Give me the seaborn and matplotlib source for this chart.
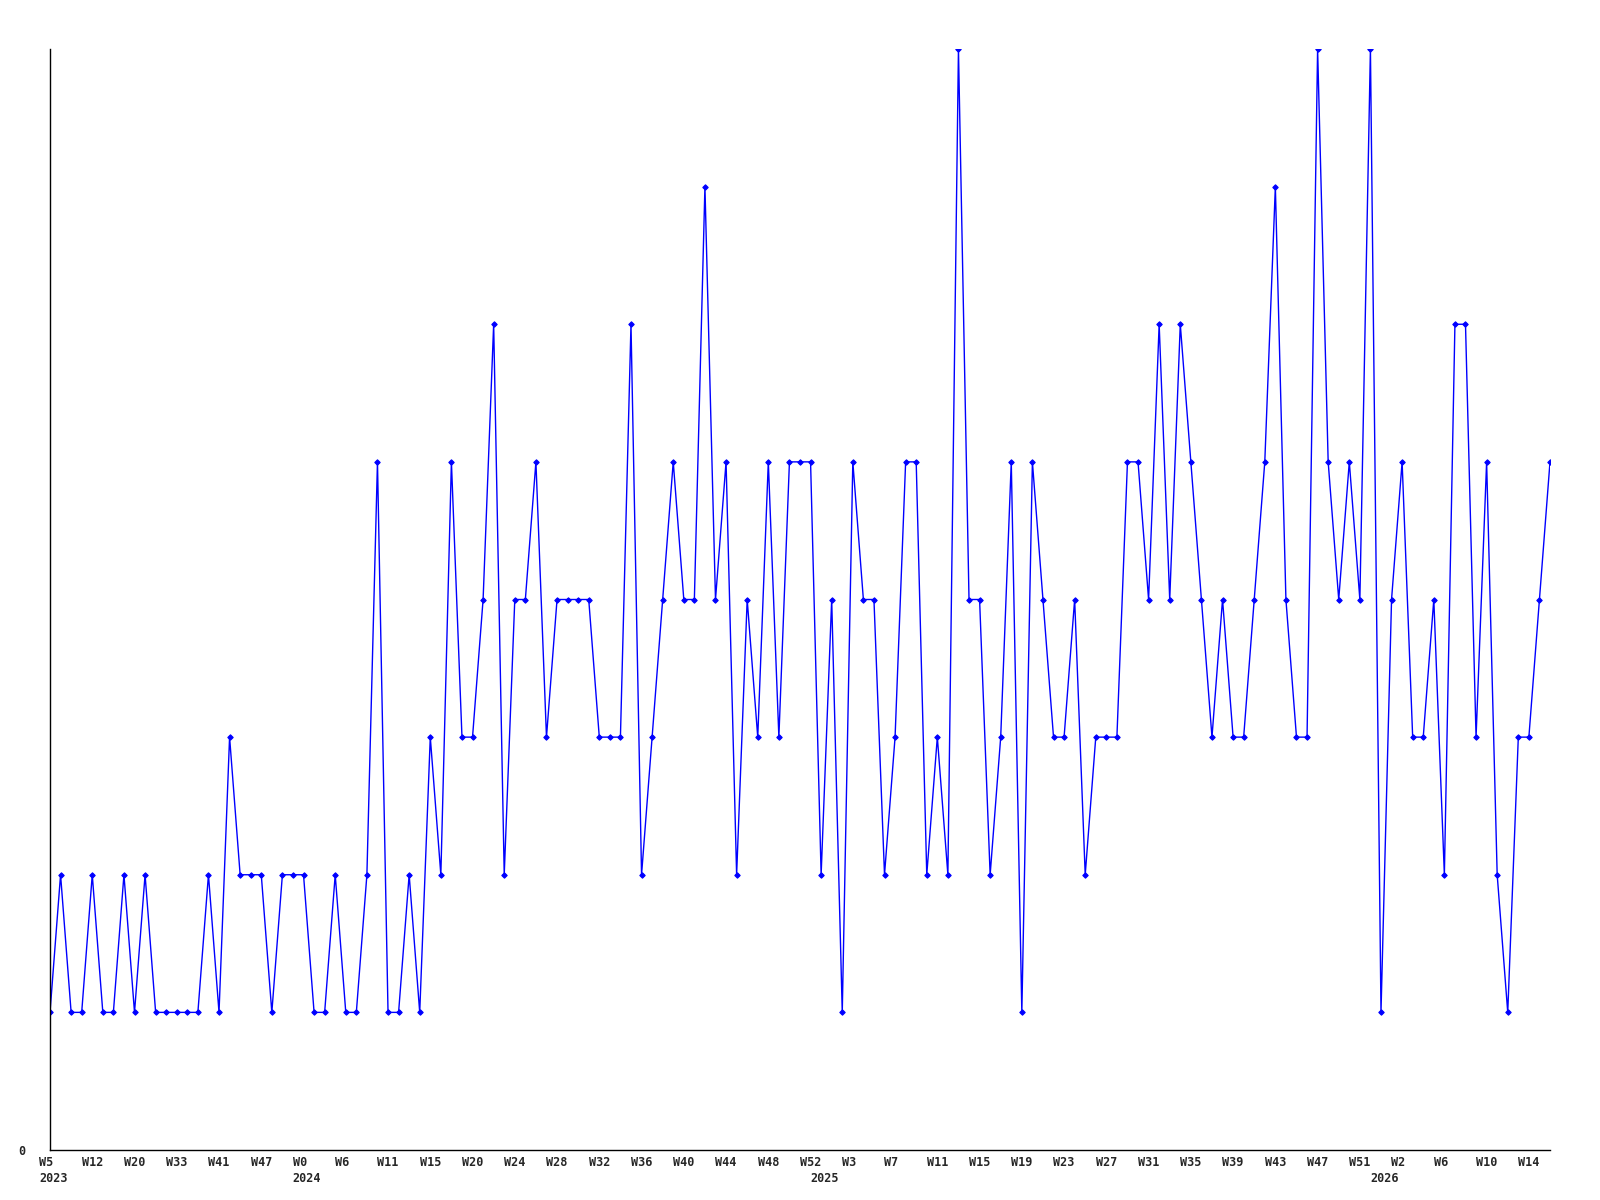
import numpy as np
import pandas as pd
import seaborn as sns
import matplotlib
matplotlib.use("Agg")
import matplotlib.pyplot as plt
from matplotlib.transforms import ScaledTranslation

# weekly counts, one per week point
counts = [1, 2, 1, 1, 2, 1, 1, 2, 1, 2,
          1, 1, 1, 1, 1, 2, 1, 3, 2, 2,
          2, 1, 2, 2, 2, 1, 1, 2, 1, 1,
          2, 5, 1, 1, 2, 1, 3, 2, 5, 3,
          3, 4, 6, 2, 4, 4, 5, 3, 4, 4,
          4, 4, 3, 3, 3, 6, 2, 3, 4, 5,
          4, 4, 7, 4, 5, 2, 4, 3, 5, 3,
          5, 5, 5, 2, 4, 1, 5, 4, 4, 2,
          3, 5, 5, 2, 3, 2, 8, 4, 4, 2,
          3, 5, 1, 5, 4, 3, 3, 4, 2, 3,
          3, 3, 5, 5, 4, 6, 4, 6, 5, 4,
          3, 4, 3, 3, 4, 5, 7, 4, 3, 3,
          8, 5, 4, 5, 4, 8, 1, 4, 5, 3,
          3, 4, 2, 6, 6, 3, 5, 2, 1, 3,
          3, 4, 5]

week_labels = ["W5", "W12", "W20", "W33", "W41", "W47", "W0", "W6", "W11",
               "W15", "W20", "W24", "W28", "W32", "W36", "W40", "W44", "W48",
               "W52", "W3", "W7", "W11", "W15", "W19", "W23", "W27", "W31",
               "W35", "W39", "W43", "W47", "W51", "W2", "W6", "W10", "W14"]
tick_step = 4

years = ["2023", "2024", "2025", "2026"]
year_pos = [0, 24, 73, 126]

df = pd.DataFrame({"idx": np.arange(len(counts)), "count": counts})

sns.set_style("white")
plt.rcParams["font.family"] = ["DejaVu Sans Mono", "DejaVu Sans"]

fig = plt.figure(figsize=(16, 12), dpi=100)
ax = fig.add_axes([50 / 1600, 50 / 1200, 1500 / 1600, 1101 / 1200])

sns.lineplot(data=df, x="idx", y="count", ax=ax, color="#0000ff",
             linewidth=1.0, marker="D", markersize=2.8,
             markeredgecolor="#0000ff", markerfacecolor="#0000ff")

ax.set_xlim(0, len(counts) - 1)
ax.set_ylim(0, 8)
ax.set_xlabel("")
ax.set_ylabel("")

ax.set_xticks(np.arange(0, len(counts), tick_step)[:len(week_labels)])
ax.set_xticklabels(week_labels, fontsize=8.5, fontweight="bold")
ax.set_yticks([0])
ax.set_yticklabels(["0"], fontsize=8.5, fontweight="bold")
ax.tick_params(axis="x", length=0, pad=4.5)
ax.tick_params(axis="y", length=0, pad=18)

shift = ScaledTranslation(-10.7 / 100, 0, fig.dpi_scale_trans)
for lab in ax.get_xticklabels():
    lab.set_horizontalalignment("left")
    lab.set_transform(lab.get_transform() + shift)

for yr, pos in zip(years, year_pos):
    ax.annotate(yr, xy=(pos, 0), xycoords=("data", "axes fraction"),
                xytext=(-7.7, -15.5), textcoords="offset points",
                ha="left", va="top", fontsize=8.5, fontweight="bold")

for side in ["top", "right"]:
    ax.spines[side].set_visible(False)
for side in ["left", "bottom"]:
    ax.spines[side].set_color("black")
    ax.spines[side].set_linewidth(1.0)

fig.savefig("out.png", dpi=100)
